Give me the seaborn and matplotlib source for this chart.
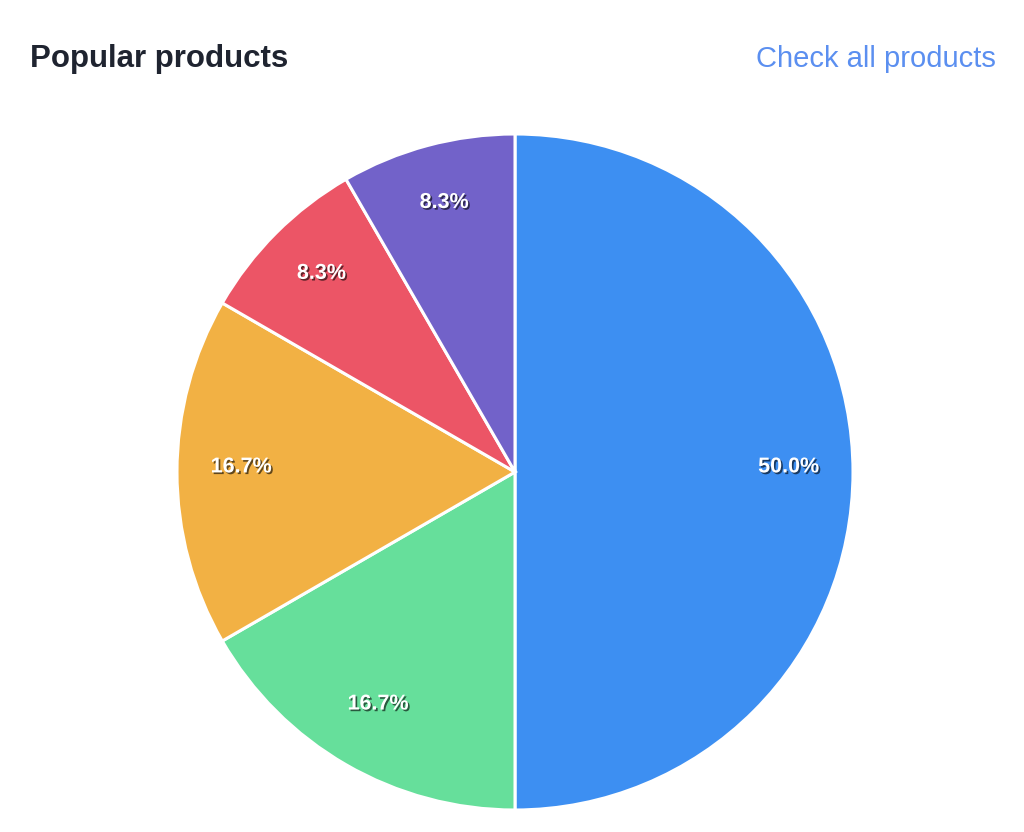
import matplotlib
matplotlib.use("Agg")
import matplotlib.pyplot as plt
import matplotlib.patheffects as pe
import seaborn as sns

# Data
products = ["Product A", "Product B", "Product C", "Product D", "Product E"]
sales = [6, 2, 2, 1, 1]
colors = ["#3d8ff2", "#66df9b", "#f2b144", "#ec5566", "#7262c9"]

sns.set_theme(style="white")
plt.rcParams["font.family"] = ["Liberation Sans", "DejaVu Sans"]

fig = plt.figure(figsize=(10.24, 8.32), dpi=100)
fig.patch.set_facecolor("white")

# pie area: centre (515, 472) px, radius 338 px
ax = fig.add_axes([(515 - 338) / 1024, (832 - 810) / 832, 676 / 1024, 676 / 832])
palette = sns.color_palette(colors)

wedges, texts, autotexts = ax.pie(
    sales,
    colors=palette,
    startangle=90,
    counterclock=False,
    autopct="%.1f%%",
    pctdistance=0.81,
    wedgeprops=dict(edgecolor="white", linewidth=2.2),
    textprops=dict(color="white", fontsize=15.5, fontweight="bold"),
)
for t in autotexts:
    x, y = t.get_position()
    t.set_position((x, y + 0.015))
    t.set_path_effects([
        pe.SimplePatchShadow(offset=(1.2, -1.2), shadow_rgbFace="black", alpha=0.6),
        pe.Normal(),
    ])
ax.set_xlim(-1, 1)
ax.set_ylim(-1, 1)
ax.set_aspect("equal")
ax.axis("off")

fig.text(30 / 1024, 1 - 59 / 832, "Popular products", fontsize=22.5,
         fontweight="bold", color="#1f2430", ha="left", va="center")
fig.text(996 / 1024, 1 - 59 / 832, "Check all products", fontsize=21,
         color="#5b8ff0", ha="right", va="center")

fig.savefig("out.png", dpi=100)
